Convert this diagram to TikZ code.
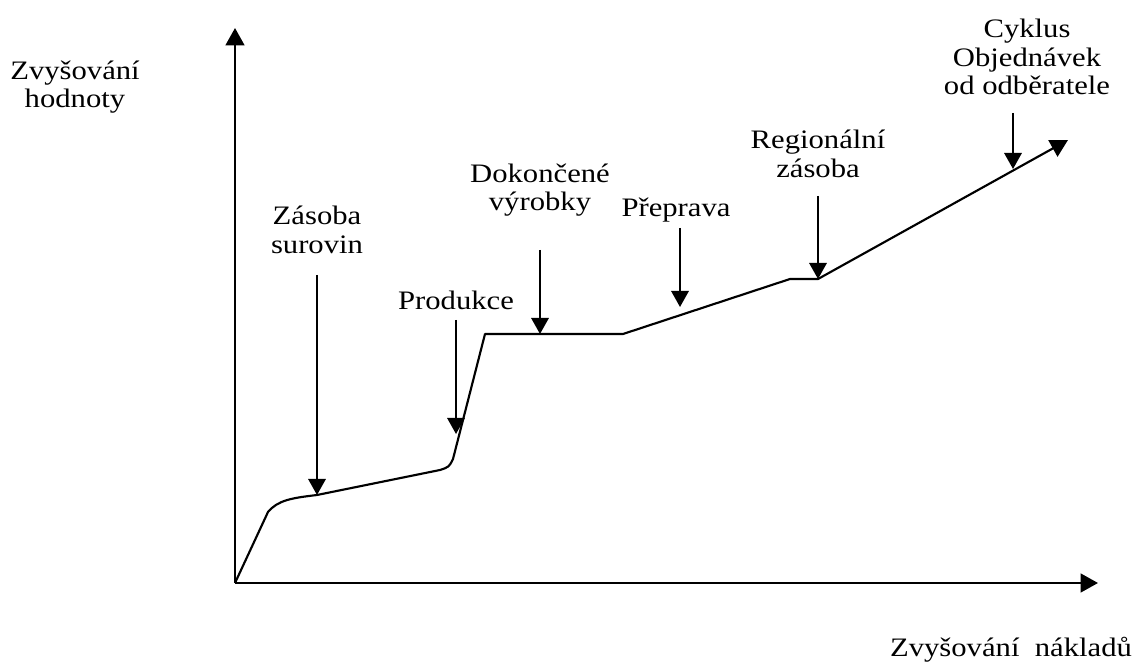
\documentclass[tikz,border=0pt]{standalone}
\usepackage{fontspec}
\setmainfont{Liberation Serif}[FakeStretch=1.15]
\usetikzlibrary{arrows.meta}

\tikzset{
  axis/.style={line width=1.8pt, -{Triangle[length=13pt,width=14pt]}},
  curve/.style={line width=1.6pt, line join=round, -{Triangle[length=13pt,width=14pt]}},
  pointer/.style={line width=1.6pt, -{Triangle[length=12pt,width=13pt]}},
  lbl/.style={align=center, inner sep=0pt, font=\fontsize{20}{21.5}\selectfont}
}

\begin{document}
\begin{tikzpicture}[x=0.75pt,y=-0.75pt]
  \useasboundingbox (0,0) rectangle (1139,666);

  % axes
  \coordinate (O) at (235,583);
  \coordinate (ytip) at (235,28);
  \coordinate (xtip) at (1098,583);
  \draw[axis] (O) -- (ytip);
  \draw[axis] (O) -- (xtip);

  % axis labels
  \node[lbl] (yl) at (75,87) {Zvyšování\\hodnoty};
  \node[lbl] (xl) at (1011,650) {Zvyšování\ \ nákladů};

  % value curve
  \coordinate (k1) at (268,512);
  \coordinate (s1) at (317,495);
  \coordinate (s2) at (440,470);
  \coordinate (s3) at (453,459);
  \coordinate (p1) at (485,334);
  \coordinate (p2) at (623,334);
  \coordinate (r1) at (790,279);
  \coordinate (r2) at (818,279);
  \coordinate (end) at (1068,140);
  \draw[curve] (O) -- (k1) .. controls (278,500) and (292,498) .. (s1)
    -- (s2) .. controls (449,467) .. (s3) -- (p1) -- (p2) -- (r1) -- (r2) -- (end);

  % stage labels
  \node[lbl] (zs) at (317,230) {Zásoba\\surovin};
  \node[lbl] (pr) at (456,300) {Produkce};
  \node[lbl] (dv) at (540,190) {Dokončené\\výrobky};
  \node[lbl] (pp) at (676,210) {Přeprava};
  \node[lbl] (rz) at (818,154) {Regionální\\zásoba};
  \node[lbl] (co) at (1027,57) {Cyklus\\Objednávek\\od odběratele};

  % pointers onto the curve
  \coordinate (zsA) at (317,275);  \coordinate (zsB) at (317,495);
  \coordinate (prA) at (456,320);  \coordinate (prB) at (456,434);
  \coordinate (dvA) at (540,250);  \coordinate (dvB) at (540,334);
  \coordinate (ppA) at (680,228);  \coordinate (ppB) at (680,307);
  \coordinate (rzA) at (818,196);  \coordinate (rzB) at (818,279);
  \coordinate (coA) at (1013,113); \coordinate (coB) at (1013,169);
  \draw[pointer] (zsA) -- (zsB);
  \draw[pointer] (prA) -- (prB);
  \draw[pointer] (dvA) -- (dvB);
  \draw[pointer] (ppA) -- (ppB);
  \draw[pointer] (rzA) -- (rzB);
  \draw[pointer] (coA) -- (coB);
\end{tikzpicture}
\end{document}
